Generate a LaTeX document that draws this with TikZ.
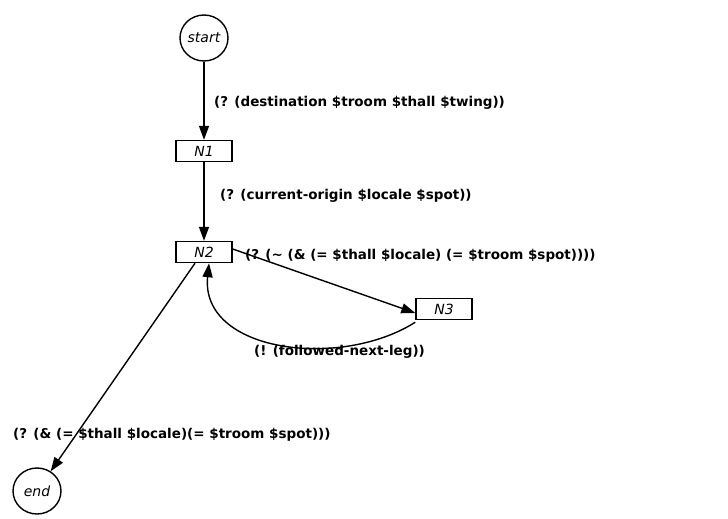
\documentclass[tikz,border=0pt]{standalone}
\usepackage{fontspec}
\setmainfont{DejaVu Sans}
\usetikzlibrary{arrows.meta,shapes.geometric}
\begin{document}
\begin{tikzpicture}[x=1pt,y=-1pt,
  statecirc/.style={draw,ellipse,line width=1.4pt,minimum width=48pt,minimum height=46pt,inner sep=0pt,font=\itshape\fontsize{14}{16}\selectfont},
  statebox/.style={draw,rectangle,line width=1.4pt,minimum width=56pt,minimum height=21pt,inner sep=0pt,font=\itshape\fontsize{14}{16}\selectfont},
  conn/.style={line width=1.4pt,-{Triangle[length=14pt,width=10pt]}},
  lbl/.style={anchor=west,inner sep=0pt,font=\bfseries\fontsize{13.5}{16}\selectfont}]
\useasboundingbox (0,0) rectangle (728,519);
\node[statecirc] (start) at (204,38) {start};
\node[statebox] (n1) at (204,151) {N1};
\node[statebox] (n2) at (204,252) {N2};
\node[statebox] (n3) at (444,309) {N3};
\node[statecirc] (end) at (37,491) {end};
\draw[conn] (start) -- (n1);
\draw[conn] (n1) -- (n2);
\draw[conn] ([yshift=3pt]n2.east) -- ([yshift=-4pt]n3.west);
\draw[conn] ([yshift=-2pt]n3.south west) .. controls (340,370) and (200,352) .. ([xshift=5pt]n2.south);
\draw[conn] ([xshift=-9pt]n2.south) -- (end);
\node[lbl] (l1) at (214,103) {(? (destination \$troom \$thall \$twing))};
\node[lbl] (l2) at (220,196) {(? (current-origin \$locale \$spot))};
\node[lbl] (l3) at (245,256) {(? (\textasciitilde{} (\& (= \$thall \$locale) (= \$troom \$spot))))};
\node[lbl] (l4) at (254,352) {(! (followed-next-leg))};
\node[lbl] (l5) at (13,435) {(? (\& (= \$thall \$locale)(= \$troom \$spot)))};
\end{tikzpicture}
\end{document}
